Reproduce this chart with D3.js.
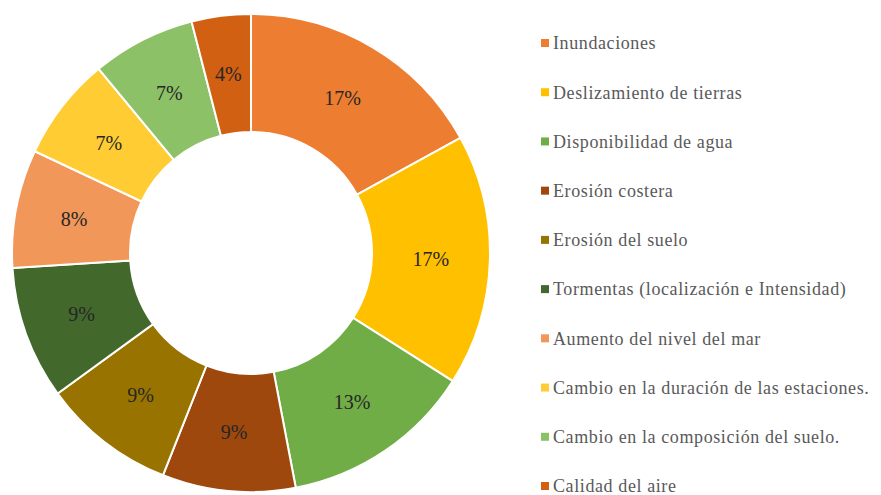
<!DOCTYPE html>
<html>
<head>
<meta charset="utf-8">
<title>Donut</title>
<script src="https://cdn.jsdelivr.net/npm/d3@7"></script>
<style>
  body { margin: 0; background: #fff; }
</style>
</head>
<body>
<script>
// data
var categories = [
  "Inundaciones",
  "Deslizamiento de tierras",
  "Disponibilidad de agua",
  "Erosión costera",
  "Erosión del suelo",
  "Tormentas (localización e Intensidad)",
  "Aumento del nivel del mar",
  "Cambio en la duración de las estaciones.",
  "Cambio en la composición del suelo.",
  "Calidad del aire"
];
var values = [17, 17, 13, 9, 9, 9, 8, 7, 7, 4];
var colors = ["#ED7D31", "#FFC000", "#70AD47", "#9E480E", "#997300",
              "#43682B", "#F1975A", "#FFCD33", "#8CC168", "#D26012"];

var w = 881, h = 495;
var cx = 251, cy = 253, rOuter = 239, rInner = 121;
var font = "'Liberation Serif', 'DejaVu Serif', serif";

var svg = d3.select("body").append("svg")
    .attr("width", w)
    .attr("height", h);

var pie = d3.pie().sort(null).value(function(d){ return d; });
var arc = d3.arc().innerRadius(rInner).outerRadius(rOuter);

var g = svg.append("g").attr("transform", "translate(" + cx + "," + cy + ")");

// slices
g.selectAll("path")
    .data(pie(values))
    .enter()
    .append("path")
    .attr("d", arc)
    .attr("fill", function(d, i){ return colors[i]; })
    .attr("stroke", "#fff")
    .attr("stroke-width", 2);

// percent labels
g.selectAll("text.lbl")
    .data(pie(values))
    .enter()
    .append("text")
    .attr("class", "lbl")
    .attr("transform", function(d){ return "translate(" + arc.centroid(d) + ")"; })
    .attr("text-anchor", "middle")
    .attr("dy", "0.35em")
    .attr("font-family", font)
    .attr("font-size", 20)
    .attr("fill", "#262626")
    .text(function(d){ return d.value + "%"; });

// legend
var legendY = d3.scalePoint()
    .domain(categories)
    .range([43, 486]);

var legend = svg.append("g").selectAll("g")
    .data(categories)
    .enter()
    .append("g")
    .attr("transform", function(d){ return "translate(541," + legendY(d) + ")"; });

legend.append("rect")
    .attr("x", 0).attr("y", -4)
    .attr("width", 8).attr("height", 8)
    .attr("fill", function(d, i){ return colors[i]; });

legend.append("text")
    .attr("x", 12)
    .attr("dy", "0.35em")
    .attr("font-family", font)
    .attr("font-size", 18)
    .attr("letter-spacing", 0.6)
    .attr("fill", "#595959")
    .text(function(d){ return d; });
</script>
</body>
</html>
